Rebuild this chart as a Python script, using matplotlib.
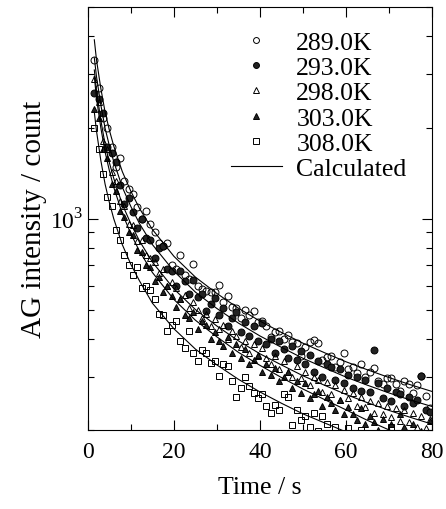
import numpy as np
import matplotlib
matplotlib.use('Agg')
import matplotlib.pyplot as plt
from matplotlib.ticker import NullFormatter, FixedLocator

plt.rcParams['font.family'] = ['Liberation Serif', 'DejaVu Serif']
plt.rcParams['mathtext.fontset'] = 'custom'
plt.rcParams['mathtext.rm'] = 'Liberation Serif'

# measured points, one every second
time_s = np.arange(1.5, 80, 1.0)

k289 = [3350, 2700, 2150, 2000, 1720, 1480, 1590, 1330, 1250, 1210,
        1090, 1000, 1060, 960, 900, 830, 810, 830, 700, 680,
        755, 650, 630, 705, 600, 585, 575, 570, 570, 605,
        530, 556, 510, 505, 470, 500, 480, 496, 455, 460,
        442, 405, 420, 425, 400, 413, 392, 388, 352, 375,
        391, 397, 388, 340, 349, 352, 324, 335, 360, 318,
        324, 309, 330, 300, 311, 320, 291, 284, 296, 298,
        283, 270, 290, 284, 265, 282, 302, 259, 236]
k293 = [2610, 2480, 2230, 1720, 1650, 1540, 1290, 1120, 1170, 1050,
        930, 1000, 860, 850, 740, 800, 810, 680, 670, 600,
        670, 620, 565, 625, 550, 565, 495, 520, 545, 480,
        505, 440, 470, 490, 420, 455, 410, 440, 395, 450,
        385, 400, 360, 395, 370, 345, 380, 340, 365, 330,
        355, 312, 338, 300, 330, 322, 292, 318, 285, 305,
        276, 300, 270, 292, 268, 367, 285, 255, 275, 250,
        268, 262, 240, 258, 245, 252, 302, 232, 230]
k298 = [2900, 2420, 1800, 1700, 1420, 1330, 1140, 1100, 960, 950,
        840, 850, 760, 740, 720, 660, 680, 600, 615, 590,
        540, 560, 505, 530, 500, 470, 485, 440, 465, 430,
        445, 400, 425, 410, 375, 395, 360, 385, 350, 372,
        345, 330, 352, 318, 338, 312, 300, 325, 296, 310,
        282, 300, 292, 268, 288, 262, 282, 252, 272, 255,
        265, 240, 258, 238, 250, 228, 246, 225, 240, 220,
        236, 214, 232, 212, 228, 205, 222, 203, 218]
k303 = [2300, 2150, 1700, 1580, 1300, 1230, 1060, 1010, 900, 880,
        790, 775, 700, 690, 620, 640, 570, 600, 555, 510,
        540, 480, 470, 490, 430, 460, 445, 400, 420, 395,
        380, 405, 360, 385, 345, 370, 330, 340, 355, 310,
        330, 305, 320, 290, 300, 310, 275, 290, 265, 285,
        255, 262, 270, 240, 258, 245, 232, 252, 226, 238,
        225, 215, 236, 209, 222, 212, 200, 218, 196, 210,
        192, 226, 205, 188, 210, 185, 198, 190, 214]
k308 = [2000, 1700, 1400, 1180, 1100, 920, 850, 760, 700, 650,
        690, 590, 600, 582, 541, 482, 481, 426, 445, 460,
        395, 374, 426, 360, 338, 368, 360, 334, 338, 302,
        330, 326, 290, 257, 276, 300, 280, 265, 256, 262,
        240, 228, 242, 233, 262, 258, 207, 233, 215, 223,
        205, 228, 198, 223, 210, 195, 204, 185, 190, 203,
        178, 182, 200, 170, 172, 168, 175, 165, 170, 205,
        165, 170, 160, 168, 158, 162, 155, 160, 152]

# calculated curves
fit_t = [1.5, 2, 3, 4, 5, 6, 8, 10, 12, 15, 20, 25, 30, 35, 40, 45, 50, 55, 60, 65, 70, 75, 80]
fit_289 = [3900, 3350, 2700, 2250, 1960, 1740, 1430, 1230, 1080, 920, 750, 640, 565, 505, 458, 420, 387, 360, 336, 316, 298, 282, 268]
fit_293 = [3400, 2950, 2380, 1990, 1740, 1545, 1270, 1095, 962, 820, 670, 571, 504, 451, 409, 375, 345, 321, 299, 281, 265, 251, 239]
fit_298 = [3100, 2650, 2120, 1760, 1530, 1360, 1115, 960, 843, 718, 585, 500, 441, 394, 357, 328, 302, 281, 262, 246, 232, 220, 209]
fit_303 = [2950, 2500, 2000, 1660, 1440, 1270, 1040, 890, 780, 663, 540, 461, 406, 361, 327, 298, 273, 252, 233, 215, 200, 187, 177]
fit_308 = [2250, 1950, 1560, 1300, 1130, 1000, 820, 705, 622, 525, 432, 370, 328, 294, 267, 245, 226, 211, 197, 186, 176, 166, 158]

labels = ['289.0K', '293.0K', '298.0K', '303.0K', '308.0K']
markers = ['o', 'o', '^', '^', 's']
filled = [False, True, False, True, False]

fig = plt.figure(figsize=(4.46, 5.10), dpi=100)
ax = fig.add_axes([0.197, 0.155, 0.772, 0.829])

for ys, m, f, lab in zip([k289, k293, k298, k303, k308], markers, filled, labels):
    ax.plot(time_s, ys, linestyle='none', marker=m, ms=5, mew=0.7,
            mec='black', mfc='#222222' if f else 'none', label=lab)

for i, fy in enumerate([fit_289, fit_293, fit_298, fit_303, fit_308]):
    ax.plot(fit_t, fy, color='black', lw=0.8, label='Calculated' if i == 0 else None)

ax.set_yscale('log')
ax.set_xlim(0, 80)
ax.set_ylim(200, 5000)

ax.set_xticks([0, 20, 40, 60, 80])
ax.set_xticks([10, 30, 50, 70], minor=True)
ax.yaxis.set_major_locator(FixedLocator([1000]))
ax.yaxis.set_minor_locator(FixedLocator([200, 300, 400, 500, 600, 700, 800, 900, 2000, 3000, 4000, 5000]))
ax.yaxis.set_minor_formatter(NullFormatter())
ax.set_yticklabels([r'$10^3$'])

ax.tick_params(which='both', direction='in', top=True, right=True, width=0.8, labelsize=17)
ax.tick_params(which='major', length=7)
ax.tick_params(which='minor', length=4)
ax.tick_params(axis='x', which='major', pad=8)
for s in ax.spines.values():
    s.set_linewidth(0.8)

ax.set_xlabel('Time / s', fontsize=18.5, labelpad=10)
ax.set_ylabel('AG intensity / count', fontsize=21, labelpad=2)

ax.legend(loc='upper left', bbox_to_anchor=(0.415, 0.944), frameon=False,
          fontsize=18.5, handlelength=2.0, handletextpad=0.55, labelspacing=0.09,
          borderpad=0, borderaxespad=0, markerscale=0.85)

fig.savefig('out.png', dpi=100)
